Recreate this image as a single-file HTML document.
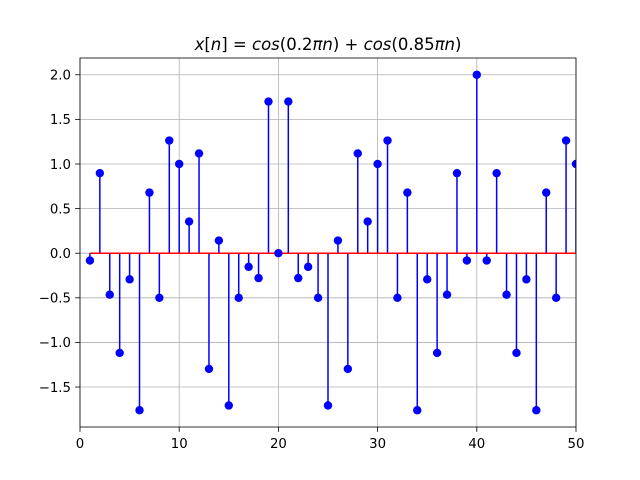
<!DOCTYPE html>
<html><head><meta charset="utf-8"><style>
body{margin:0;background:#fff;}
svg{display:block;font-family:"DejaVu Sans","Liberation Sans",sans-serif;}
</style></head><body>
<svg id="chart" width="640" height="480" viewBox="0 0 640 480" xmlns="http://www.w3.org/2000/svg">
<defs><clipPath id="clip"><rect x="80" y="58" width="496" height="369"/></clipPath></defs>
<rect x="0" y="0" width="640" height="480" fill="#fff"/>
<text x="328" y="50" font-size="16.5" text-anchor="middle"><tspan font-style="italic">x</tspan>[<tspan font-style="italic">n</tspan>] = <tspan font-style="italic">cos</tspan>(0.2<tspan font-style="italic">πn</tspan>) + <tspan font-style="italic">cos</tspan>(0.85<tspan font-style="italic">πn</tspan>)</text>
<g id="grid"></g>
<g id="marks" clip-path="url(#clip)"></g>
<rect x="80" y="58" width="496" height="369" fill="none" stroke="#000" stroke-width="0.8"/>
<g id="ticks"></g>
</svg>
<script>
const nValues = [1,2,3,4,5,6,7,8,9,10,11,12,13,14,15,16,17,18,19,20,21,22,23,24,25,26,27,28,29,30,31,32,33,34,35,36,37,38,39,40,41,42,43,44,45,46,47,48,49,50];
const xValues = [-0.082,0.897,-0.465,-1.118,-0.293,-1.760,0.679,-0.5,1.263,1.0,0.355,1.118,-1.297,0.142,-1.707,-0.5,-0.153,-0.279,1.700,0.0,1.700,-0.279,-0.153,-0.5,-1.707,0.142,-1.297,1.118,0.355,1.0,1.263,-0.5,0.679,-1.760,-0.293,-1.118,-0.465,0.897,-0.082,2.0,-0.082,0.897,-0.465,-1.118,-0.293,-1.760,0.679,-0.5,1.263,1.0];
const xTicks = [0,10,20,30,40,50];
const yTicks = [-1.5,-1.0,-0.5,0.0,0.5,1.0,1.5,2.0];
const yTickLabels = ["−1.5","−1.0","−0.5","0.0","0.5","1.0","1.5","2.0"];

const NS="http://www.w3.org/2000/svg";
const L=80,R=576,T=58,B=427;
const xMin=0,xMax=50;
const dMin=Math.min(...xValues),dMax=Math.max(...xValues),pad=(dMax-dMin)*0.05;
const yMin=dMin-pad,yMax=dMax+pad;
const sx=v=>L+(v-xMin)/(xMax-xMin)*(R-L);
const sy=v=>B-(v-yMin)/(yMax-yMin)*(B-T);
function mk(tag,attrs,parent){const e=document.createElementNS(NS,tag);for(const k in attrs)e.setAttribute(k,attrs[k]);parent.appendChild(e);return e;}
const grid=document.getElementById('grid'),marks=document.getElementById('marks'),ticks=document.getElementById('ticks');
xTicks.forEach(t=>{
  const x=sx(t);
  const g=mk('line',{x1:x,x2:x,y1:T,y2:B,stroke:'#b0b0b0','stroke-width':0.8},grid);
  
  
  mk('line',{x1:x,x2:x,y1:B,y2:B+4.9,stroke:'#000','stroke-width':0.8},ticks);
  const tx=mk('text',{x:x,y:B+21,'font-size':13.3,'text-anchor':'middle'},ticks);
  tx.textContent=t;
  
  
});
yTicks.forEach((t,i)=>{
  const y=sy(t);
  const g=mk('line',{x1:L,x2:R,y1:y,y2:y,stroke:'#b0b0b0','stroke-width':0.8},grid);
  
  
  mk('line',{x1:L-4.9,x2:L,y1:y,y2:y,stroke:'#000','stroke-width':0.8},ticks);
  const tx=mk('text',{x:L-9,y:y+4.8,'font-size':13.3,'text-anchor':'end'},ticks);
  tx.textContent=yTickLabels[i];
  
  
});
nValues.forEach((n,i)=>{
  const s=mk('line',{x1:sx(n),x2:sx(n),y1:sy(0),y2:sy(xValues[i]),stroke:'#0000ff','stroke-width':1.5},marks);
  
  
});
const base=mk('line',{x1:sx(nValues[0]),x2:sx(nValues[nValues.length-1]),y1:sy(0),y2:sy(0),stroke:'#ff0000','stroke-width':1.5},marks);


nValues.forEach((n,i)=>{
  const c=mk('circle',{cx:sx(n),cy:sy(xValues[i]),r:4.2,fill:'#0000ff'},marks);
  
  
});
</script>
</body></html>
